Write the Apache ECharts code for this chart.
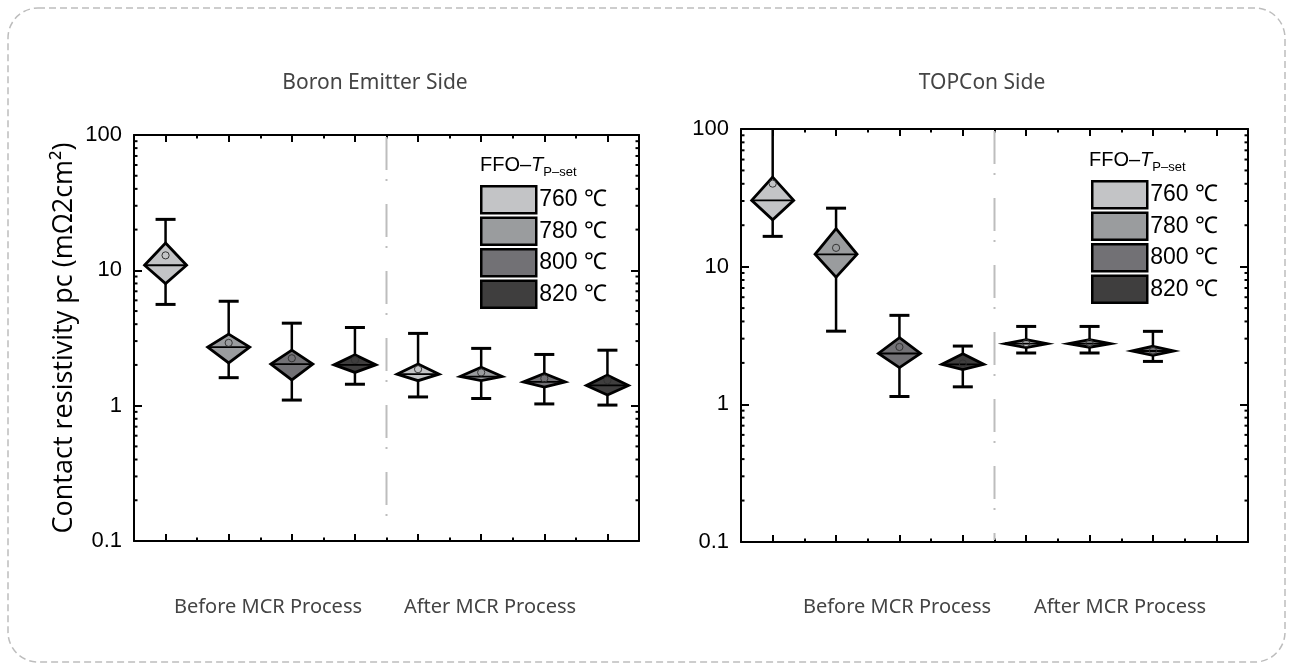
<!DOCTYPE html>
<html lang="en">
<head>
  <meta charset="UTF-8">
  <title>Contact resistivity</title>
  <style>
    html, body { margin: 0; padding: 0; background: #fff; }
    #chart { width: 1293px; height: 670px; }
  </style>
</head>
<body>
  <div id="chart"></div>
  <script src="https://cdn.jsdelivr.net/npm/echarts@6/dist/echarts.min.js"></script>
  <script>
    // 分类：每个面板 8 个位置（前 4 个 MCR 前，后 4 个 MCR 后）
    var categories = ['B-760', 'B-780', 'B-800', 'B-820', 'A-760', 'A-780', 'A-800', 'A-820'];
    var temps = ['760 ℃', '780 ℃', '800 ℃', '820 ℃'];
    var tempColors = ['#c3c4c6', '#9a9c9e', '#727175', '#3f3e3e'];
    var tempOfCategory = [0, 1, 2, 3, 0, 1, 2, 3];
    var yTicks = [0.1, 1, 10, 100];
    var minorTicks = [0.2, 0.3, 0.4, 0.5, 0.6, 0.7, 0.8, 0.9, 2, 3, 4, 5, 6, 7, 8, 9, 20, 30, 40, 50, 60, 70, 80, 90];

    // Boron Emitter Side
    var boronWhiskerLow = [5.6, 1.61, 1.10, 1.44, 1.16, 1.13, 1.03, 1.01];
    var boronBoxLow = [7.98, 2.07, 1.55, 1.76, 1.53, 1.53, 1.37, 1.20];
    var boronMedian = [10.9, 2.71, 2.03, 2.00, 1.71, 1.64, 1.50, 1.41];
    var boronBoxHigh = [15.9, 3.38, 2.57, 2.38, 2.03, 1.92, 1.73, 1.68];
    var boronWhiskerHigh = [23.8, 5.91, 4.07, 3.78, 3.42, 2.65, 2.39, 2.57];
    var boronMean = [12.9, 2.91, 2.24, 2.17, 1.86, 1.76, 1.59, 1.54];

    // TOPCon Side（最后一个位置无数据）
    var topconWhiskerLow = [16.6, 3.4, 1.14, 1.34, 2.36, 2.36, 2.05];
    var topconBoxLow = [21.9, 8.4, 1.85, 1.79, 2.58, 2.60, 2.27];
    var topconMedian = [30.3, 12.3, 2.34, 1.95, 2.76, 2.76, 2.44];
    var topconBoxHigh = [44.7, 18.9, 3.05, 2.33, 2.95, 2.95, 2.64];
    var topconWhiskerHigh = [130, 26.6, 4.43, 2.65, 3.68, 3.68, 3.39];
    var topconMean = [40.1, 13.7, 2.61, 1.98, 2.78, 2.78, 2.45];

    var panels = [
      { low: boronWhiskerLow, q1: boronBoxLow, med: boronMedian, q3: boronBoxHigh, high: boronWhiskerHigh, mean: boronMean },
      { low: topconWhiskerLow, q1: topconBoxLow, med: topconMedian, q3: topconBoxHigh, high: topconWhiskerHigh, mean: topconMean }
    ];

    var grids = [
      { left: 134, top: 135, width: 505, height: 406 },
      { left: 741, top: 129, width: 507, height: 413 }
    ];

    var myChart = echarts.init(document.getElementById('chart'));

    // 菱形箱线图
    function renderBox(params, api) {
      var x = api.value(0);
      var cs = params.coordSys;
      var cx = api.coord([x, api.value(3)])[0];
      var yLow = api.coord([x, api.value(1)])[1];
      var yQ1 = api.coord([x, api.value(2)])[1];
      var yMed = api.coord([x, api.value(3)])[1];
      var yQ3 = api.coord([x, api.value(4)])[1];
      var yHigh = api.coord([x, api.value(5)])[1];
      var yMean = api.coord([x, api.value(6)])[1];
      var clipped = yHigh < cs.y;
      if (clipped) yHigh = cs.y;
      var hw = 21, cw = 10;
      var children = [
        { type: 'line', shape: { x1: cx, y1: yLow, x2: cx, y2: yHigh }, style: { stroke: '#000', lineWidth: 2.5 } },
        { type: 'line', shape: { x1: cx - cw, y1: yLow, x2: cx + cw, y2: yLow }, style: { stroke: '#000', lineWidth: 3 } }
      ];
      if (!clipped) {
        children.push({ type: 'line', shape: { x1: cx - cw, y1: yHigh, x2: cx + cw, y2: yHigh }, style: { stroke: '#000', lineWidth: 3 } });
      }
      children.push({
        type: 'polygon',
        shape: { points: [[cx, yQ3], [cx + hw, yMed], [cx, yQ1], [cx - hw, yMed]] },
        style: { fill: api.visual('color'), stroke: '#000', lineWidth: 2.8, lineJoin: 'miter' }
      });
      children.push({ type: 'line', shape: { x1: cx - hw, y1: yMed, x2: cx + hw, y2: yMed }, style: { stroke: '#000', lineWidth: 1.8 } });
      children.push({ type: 'circle', shape: { cx: cx, cy: yMean, r: 3.6 }, style: { fill: 'none', stroke: '#333', lineWidth: 1 } });
      return { type: 'group', children: children };
    }

    // 分隔虚线（MCR 前后之间）
    function renderDivider(params, api) {
      var cs = params.coordSys;
      var p = api.coord([3, 1]);
      var bw = api.size([1, 0])[0];
      var x = p[0] + bw / 2;
      return {
        type: 'line',
        shape: { x1: x, y1: cs.y + 2, x2: x, y2: cs.y + cs.height - 2 },
        style: { stroke: '#bdbdbd', lineWidth: 2, lineDash: [33, 9, 2, 23] }
      };
    }

    // 对数轴次刻度（左右两侧，朝内）
    function renderMinorTick(params, api) {
      var cs = params.coordSys;
      var y = api.coord([0, api.value(1)])[1];
      var len = 3.5;
      return {
        type: 'group',
        children: [
          { type: 'line', shape: { x1: cs.x, y1: y, x2: cs.x + len, y2: y }, style: { stroke: '#000', lineWidth: 2 } },
          { type: 'line', shape: { x1: cs.x + cs.width - len, y1: y, x2: cs.x + cs.width, y2: y }, style: { stroke: '#000', lineWidth: 2 } }
        ]
      };
    }

    var xAxes = [], yAxes = [], series = [], legends = [];
    var legendPos = [{ left: 480, top: 185 }, { left: 1091, top: 180 }];

    grids.forEach(function (g, gi) {
      ['bottom', 'top'].forEach(function (pos) {
        xAxes.push({
          type: 'category', gridIndex: gi, position: pos, data: categories, boundaryGap: true,
          axisLine: { show: true, lineStyle: { color: '#000', width: 2 } },
          axisTick: { show: true, inside: true, alignWithLabel: true, length: 7, lineStyle: { color: '#000', width: 2 } },
          axisLabel: { show: false }, splitLine: { show: false }
        });
        xAxes.push({
          type: 'category', gridIndex: gi, position: pos, data: categories, boundaryGap: true,
          axisLine: { show: false },
          axisTick: { show: true, inside: true, alignWithLabel: false, length: 3.5, lineStyle: { color: '#000', width: 2 } },
          axisLabel: { show: false }, splitLine: { show: false }
        });
      });
      ['left', 'right'].forEach(function (pos) {
        var major = {
          type: 'log', logBase: 10, min: 0.1, max: 100, gridIndex: gi, position: pos,
          axisLine: { show: true, lineStyle: { color: '#000', width: 2 } },
          axisTick: { show: true, inside: true, length: 8, lineStyle: { color: '#000', width: 2 } },
          axisLabel: {
            show: pos === 'left', margin: 12,
            color: '#000', fontSize: 22, fontFamily: 'Liberation Sans',
            formatter: function (v) { return String(+v.toPrecision(3)); }
          },
          splitLine: { show: false }
        };
        if (pos === 'left' && gi === 0) {
          major.name = 'Contact resistivity pc (mΩ2cm²)';
          major.nameLocation = 'middle';
          major.nameGap = 56;
          major.nameTextStyle = { fontSize: 27, color: '#000', fontFamily: 'Open Sans' };
        }
        yAxes.push(major);
      });

      var xi = gi * 4, yi = gi * 2;
      var d = panels[gi];
      temps.forEach(function (name, ti) {
        var data = [];
        for (var i = 0; i < d.med.length; i++) {
          if (tempOfCategory[i] === ti) {
            data.push([i, d.low[i], d.q1[i], d.med[i], d.q3[i], d.high[i], d.mean[i]]);
          }
        }
        series.push({
          type: 'custom', name: name, xAxisIndex: xi, yAxisIndex: yi,
          itemStyle: { color: tempColors[ti] },
          renderItem: renderBox,
          encode: { x: 0, y: [1, 2, 3, 4, 5, 6] },
          data: data, silent: true, z: 3
        });
      });
      series.push({
        type: 'custom', name: 'divider', xAxisIndex: xi, yAxisIndex: yi,
        renderItem: renderDivider, data: [[3, 1]], silent: true, z: 1
      });
      series.push({
        type: 'custom', name: 'minorTicks', xAxisIndex: xi, yAxisIndex: yi,
        renderItem: renderMinorTick, encode: { x: 0, y: 1 },
        data: minorTicks.map(function (v) { return [0, v]; }), silent: true, z: 4
      });

      legends.push({
        show: true, orient: 'vertical', left: legendPos[gi].left, top: legendPos[gi].top,
        padding: 0, data: temps, icon: 'rect', itemWidth: 55, itemHeight: 27, itemGap: 2,
        selectedMode: false,
        itemStyle: { borderColor: '#000', borderWidth: 2.5 },
        textStyle: { fontSize: 23, color: '#000', fontFamily: 'Liberation Sans', padding: [0, 0, 0, -2] }
      });
    });

    var labelStyle = { fill: '#444', fontSize: 20, fontFamily: 'Noto Sans', textAlign: 'center', textVerticalAlign: 'middle' };
    function textAt(x, y, t, extra) {
      return { type: 'text', x: x, y: y, style: Object.assign({ text: t }, labelStyle, extra || {}) };
    }
    function legendTitle(x, y) {
      return {
        type: 'text', x: x, y: y,
        style: {
          text: '{a|FFO–}{b|T}{c|P–set}',
          rich: {
            a: { fontSize: 20, fontFamily: 'Liberation Sans', fill: '#000' },
            b: { fontSize: 20, fontFamily: 'Liberation Sans', fontStyle: 'italic', fill: '#000' },
            c: { fontSize: 13, fontFamily: 'Liberation Sans', fill: '#000', padding: [14, 0, 0, 0] }
          }
        }
      };
    }

    var option = {
      backgroundColor: '#fff',
      animation: false,
      grid: grids.map(function (g) { return Object.assign({ containLabel: false }, g); }),
      xAxis: xAxes,
      yAxis: yAxes,
      legend: legends,
      series: series,
      graphic: [
        {
          type: 'rect', shape: { x: 8, y: 8, width: 1277, height: 654, r: 30 },
          style: { fill: 'none', stroke: '#bdbdbd', lineWidth: 1.5, lineDash: [7, 4] }, silent: true
        },
        textAt(375, 83, 'Boron Emitter Side', { fontSize: 21 }),
        textAt(982, 83, 'TOPCon Side', { fontSize: 21 }),
        textAt(268, 607, 'Before MCR Process'),
        textAt(490, 607, 'After MCR Process'),
        textAt(897, 607, 'Before MCR Process'),
        textAt(1120, 607, 'After MCR Process'),
        legendTitle(480, 152),
        legendTitle(1089, 147)
      ]
    };

    myChart.setOption(option);
  </script>
</body>
</html>
